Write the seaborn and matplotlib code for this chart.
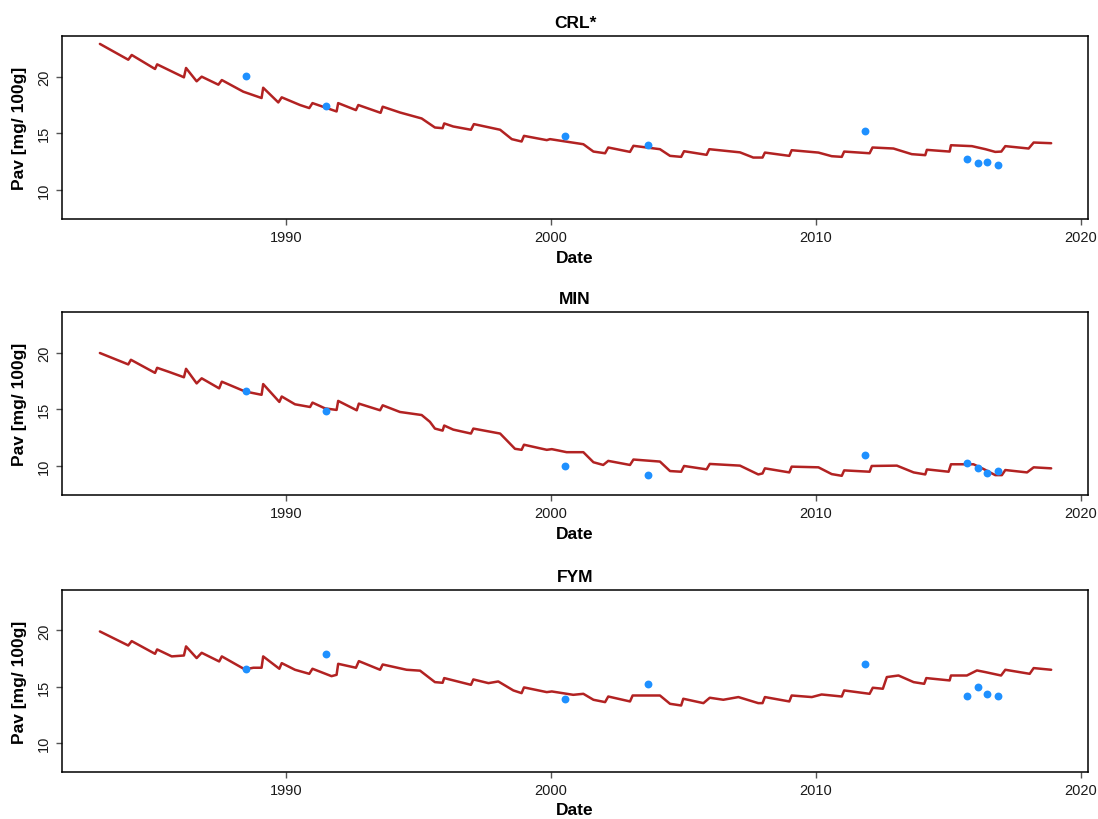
import numpy as np
import pandas as pd
import matplotlib
matplotlib.use("Agg")
import matplotlib.pyplot as plt
import seaborn as sns

# Simulated available P (decimal years) per treatment
t_crl = [1982.98, 1984.05, 1984.18, 1985.06, 1985.14, 1986.15, 1986.23, 1986.63, 1986.82, 1987.45,
         1987.58, 1988.39, 1989.08, 1989.14, 1989.71, 1989.84, 1990.53, 1990.88, 1991.00, 1991.91,
         1991.97, 1992.64, 1992.73, 1993.57, 1993.65, 1994.30, 1995.12, 1995.62, 1995.91, 1995.97,
         1996.31, 1996.98, 1997.09, 1998.08, 1998.52, 1998.89, 1998.98, 1999.84, 1999.96, 2001.22,
         2001.60, 2002.04, 2002.16, 2002.98, 2003.11, 2004.11, 2004.49, 2004.91, 2005.02, 2005.87,
         2005.97, 2007.13, 2007.63, 2007.98, 2008.07, 2008.99, 2009.08, 2010.09, 2010.59, 2010.97,
         2011.06, 2012.02, 2012.13, 2012.92, 2013.61, 2014.12, 2014.18, 2015.04, 2015.09, 2015.88,
         2016.39, 2016.76, 2016.99, 2017.14, 2018.02, 2018.21, 2018.87]
v_crl = [22.90, 21.50, 21.92, 20.68, 21.09, 19.94, 20.77, 19.59, 20.00, 19.29,
         19.70, 18.67, 18.11, 19.02, 17.72, 18.17, 17.49, 17.22, 17.66, 16.92,
         17.66, 17.04, 17.49, 16.80, 17.34, 16.83, 16.30, 15.50, 15.44, 15.86,
         15.59, 15.30, 15.80, 15.30, 14.47, 14.26, 14.76, 14.38, 14.47, 14.02,
         13.37, 13.22, 13.73, 13.34, 13.88, 13.58, 12.99, 12.90, 13.40, 13.08,
         13.58, 13.30, 12.84, 12.84, 13.28, 12.99, 13.49, 13.28, 12.96, 12.90,
         13.37, 13.22, 13.73, 13.64, 13.14, 13.05, 13.52, 13.37, 13.93, 13.85,
         13.58, 13.34, 13.37, 13.85, 13.64, 14.17, 14.11]

t_min = [1982.98, 1984.05, 1984.15, 1985.06, 1985.14, 1985.62, 1986.15, 1986.23, 1986.63, 1986.82,
         1987.48, 1987.58, 1988.45, 1989.08, 1989.14, 1989.75, 1989.84, 1990.34, 1990.91, 1991.00,
         1991.47, 1991.91, 1991.97, 1992.67, 1992.75, 1993.55, 1993.65, 1994.30, 1995.12, 1995.43,
         1995.62, 1995.91, 1995.97, 1996.31, 1996.98, 1997.07, 1998.08, 1998.33, 1998.64, 1998.89,
         1998.98, 1999.84, 2000.03, 2000.59, 2001.22, 2001.60, 2001.97, 2002.16, 2002.98, 2003.11,
         2004.11, 2004.49, 2004.91, 2005.02, 2005.87, 2005.99, 2007.13, 2007.82, 2007.98, 2008.07,
         2008.99, 2009.08, 2010.09, 2010.59, 2010.97, 2011.06, 2012.02, 2012.10, 2013.05, 2013.68,
         2014.12, 2014.18, 2015.00, 2015.09, 2015.94, 2016.32, 2016.76, 2017.01, 2017.14, 2017.96,
         2018.21, 2018.87]
v_min = [19.97, 18.96, 19.37, 18.21, 18.66, 18.27, 17.82, 18.57, 17.28, 17.73,
         16.84, 17.43, 16.57, 16.27, 17.22, 15.64, 16.12, 15.43, 15.19, 15.58,
         15.07, 14.93, 15.73, 14.90, 15.49, 14.90, 15.34, 14.75, 14.48, 13.88,
         13.28, 13.10, 13.55, 13.19, 12.84, 13.28, 12.84, 12.24, 11.49, 11.40,
         11.85, 11.40, 11.46, 11.19, 11.19, 10.30, 10.06, 10.42, 10.06, 10.54,
         10.36, 9.52, 9.46, 9.97, 9.67, 10.15, 10.00, 9.22, 9.31, 9.76,
         9.40, 9.91, 9.85, 9.25, 9.10, 9.58, 9.46, 9.97, 10.00, 9.40,
         9.22, 9.67, 9.46, 10.12, 10.12, 9.70, 9.16, 9.16, 9.61, 9.40,
         9.85, 9.76]

t_fym = [1982.98, 1984.05, 1984.18, 1985.06, 1985.14, 1985.69, 1986.15, 1986.23, 1986.63, 1986.82,
         1987.48, 1987.58, 1988.45, 1988.77, 1989.08, 1989.14, 1989.75, 1989.84, 1990.34, 1990.88,
         1991.00, 1991.72, 1991.91, 1991.97, 1992.64, 1992.75, 1993.55, 1993.65, 1994.55, 1995.06,
         1995.62, 1995.91, 1995.97, 1996.98, 1997.07, 1997.64, 1998.01, 1998.58, 1998.89, 1998.98,
         1999.84, 2000.03, 2000.84, 2001.22, 2001.60, 2002.04, 2002.16, 2002.98, 2003.08, 2004.11,
         2004.49, 2004.91, 2004.99, 2005.75, 2005.99, 2006.50, 2007.07, 2007.82, 2007.98, 2008.07,
         2008.99, 2009.08, 2009.84, 2010.21, 2010.97, 2011.06, 2012.02, 2012.14, 2012.52, 2012.67,
         2013.11, 2013.68, 2014.08, 2014.16, 2015.04, 2015.09, 2015.69, 2016.07, 2016.39, 2016.98,
         2017.14, 2018.06, 2018.21, 2018.87]
v_fym = [19.91, 18.66, 19.05, 17.92, 18.31, 17.69, 17.77, 18.58, 17.54, 18.01,
         17.24, 17.69, 16.53, 16.68, 16.68, 17.69, 16.59, 17.09, 16.50, 16.14,
         16.59, 15.93, 16.05, 17.03, 16.68, 17.27, 16.50, 16.97, 16.50, 16.42,
         15.40, 15.34, 15.76, 15.16, 15.64, 15.31, 15.46, 14.66, 14.42, 14.93,
         14.51, 14.57, 14.27, 14.36, 13.83, 13.62, 14.12, 13.68, 14.21, 14.21,
         13.47, 13.32, 13.92, 13.53, 14.01, 13.83, 14.07, 13.53, 13.53, 14.07,
         13.68, 14.21, 14.07, 14.30, 14.12, 14.66, 14.36, 14.90, 14.81, 15.85,
         15.99, 15.40, 15.25, 15.76, 15.55, 15.99, 15.99, 16.44, 16.29, 15.99,
         16.50, 16.14, 16.65, 16.50]

# Measured soil samples
obs_dates = [1988.49, 1991.50, 2000.52, 2003.65, 2011.85, 2015.69, 2016.10, 2016.45, 2016.86]
obs_crl = [20.06, 17.43, 14.79, 13.91, 15.21, 12.75, 12.34, 12.43, 12.19]
obs_min = [16.60, 14.84, 10.00, 9.16, 10.90, 10.21, 9.82, 9.31, 9.55]
obs_fym = [16.53, 17.92, 13.89, 15.19, 17.03, 14.15, 14.96, 14.30, 14.15]

treatments = ["CRL*", "MIN", "FYM"]
sim_t = [t_crl, t_min, t_fym]
sim_v = [v_crl, v_min, v_fym]
obs_v = [obs_crl, obs_min, obs_fym]

x_ticks = [1990, 2000, 2010, 2020]
y_ticks = [10, 15, 20]

sns.set_style("ticks")
plt.rcParams["font.family"] = ["Liberation Sans", "DejaVu Sans"]
plt.rcParams["text.color"] = "black"
plt.rcParams["axes.labelcolor"] = "black"

fig = plt.figure(figsize=(10.98, 8.2), dpi=100)
W, H = 1098, 820
left, right = 62, 1088
panel_px = [(37, 220), (313, 496), (591, 773)]

for name, tt, vv, ov, (top, bot) in zip(treatments, sim_t, sim_v, obs_v, panel_px):
    ax = fig.add_axes([left / W, 1 - bot / H, (right - left) / W, (bot - top) / H])
    sim = pd.DataFrame({"Date": tt, "Pav": vv})
    obs = pd.DataFrame({"Date": obs_dates, "Pav": ov})
    sns.lineplot(data=sim, x="Date", y="Pav", ax=ax, color="#B22222",
                 linewidth=1.8, estimator=None, sort=False)
    sns.scatterplot(data=obs, x="Date", y="Pav", ax=ax, color="#1E90FF",
                    s=32, linewidth=0, zorder=3)
    ax.set_xlim(1981.55, 2020.26)
    ax.set_ylim(7.4, 23.6)
    ax.set_xticks(x_ticks)
    ax.set_yticks(y_ticks)
    ax.tick_params(axis="both", length=4, width=1, color="#555555",
                   labelsize=10.5, labelcolor="#1a1a1a")
    ax.tick_params(axis="x", pad=4)
    ax.tick_params(axis="y", pad=4)
    for lab in ax.get_yticklabels():
        lab.set_rotation(90)
        lab.set_va("center")
    for sp in ax.spines.values():
        sp.set_visible(True)
        sp.set_color("black")
        sp.set_linewidth(1.1)
    ax.set_title(name, fontsize=12.5, fontweight="bold", pad=6.5, color="black")
    ax.set_xlabel("Date", fontsize=12.5, fontweight="bold", va="center", color="black")
    ax.set_ylabel("Pav [mg/ 100g]", fontsize=12.5, fontweight="bold", va="center", color="black")
    ax.xaxis.set_label_coords(0.5, -0.208)
    ax.yaxis.set_label_coords(-0.041, 0.5)

fig.savefig("out.png", dpi=100)
